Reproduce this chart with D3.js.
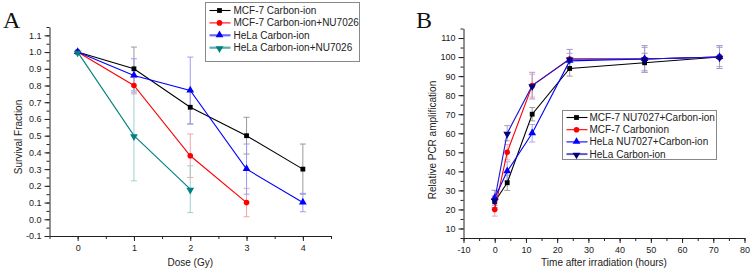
<!DOCTYPE html>
<html><head><meta charset="utf-8">
<script src="https://cdn.jsdelivr.net/npm/d3@7"></script>
<style>body{margin:0;background:#fff}svg{display:block;font-family:"Liberation Sans",Arial,sans-serif}</style>
</head><body>
<svg id="c" width="752" height="272"></svg>
<script>
// ---- Panel A data ----
const doseA = [0, 1, 2, 3, 4];
const aTicksY = [-0.1,0,0.1,0.2,0.3,0.4,0.5,0.6,0.7,0.8,0.9,1.0,1.1];
const aTicksX = [0,1,2,3,4];
const mcfCI = [1.0, 0.90, 0.67, 0.50, 0.30];
const mcfCIerr = [0, 0.13, 0.10, 0.11, 0.15];
const mcfNU = [1.0, 0.80, 0.38, 0.10];
const mcfNUerr = [0, 0.05, 0.13, 0.085];
const helaCI = [1.0, 0.86, 0.77, 0.30, 0.10];
const helaCIerr = [0, 0.10, 0.20, 0.15, 0.055];
const helaNU = [1.0, 0.50, 0.18];
const helaNUerr = [0, 0.27, 0.14];
const legendA = ["MCF-7 Carbon-ion","MCF-7 Carbon-ion+NU7026","HeLa Carbon-ion","HeLa Carbon-ion+NU7026"];

// ---- Panel B data ----
const timeB = [0, 4, 12, 24, 48, 72];
const bTicksY = [10,20,30,40,50,60,70,80,90,100,110];
const bTicksX = [-10,0,10,20,30,40,50,60,70,80];
const b_mcfNU = [24, 34, 70, 94, 97, 100];
const b_mcfNUerr = [3, 4, 3.5, 4, 5, 6];
const b_mcfCI = [20, 50, 85, 99, 99, 100];
const b_mcfCIerr = [3.5, 4, 6, 5, 7, 6];
const b_helaNU = [26, 40, 60, 98, 99, 100];
const b_helaNUerr = [4, 5, 4.6, 4, 6, 5];
const b_helaCI = [25, 60, 85, 99, 99, 100];
const b_helaCIerr = [5, 4, 7, 5, 7, 6];
const legendB = ["MCF-7 NU7027+Carbon-ion","MCF-7 Carbonion","HeLa NU7027+Carbon-ion","HeLa Carbon-ion"];

const svg = d3.select("#c");

function marker(g, type, x, y, color){
  if(type==="square"){
    g.append("rect").attr("x",x-2.4).attr("y",y-2.4).attr("width",4.8).attr("height",4.8).attr("fill",color);
  } else if(type==="circle"){
    g.append("circle").attr("cx",x).attr("cy",y).attr("r",2.8).attr("fill",color);
  } else {
    const p = d3.symbol().type(d3.symbolTriangle).size(26)();
    g.append("path").attr("d",p).attr("fill",color)
      .attr("transform",`translate(${x},${y + (type==="down"? 0.8 : -0.3)}) rotate(${type==="down"?180:0})`);
  }
}

const hy = f => (v => f(v).replace("\u2212","-"));

function drawPanel(cfg){
  const g = svg.append("g");
  const x = d3.scaleLinear().domain(cfg.xd).range(cfg.xr);
  const y = d3.scaleLinear().domain(cfg.yd).range(cfg.yr);
  const ax = g.append("g").attr("transform",`translate(0,${cfg.yr[0]})`)
    .call(d3.axisBottom(x).tickValues(cfg.xMinor).tickSize(3).tickFormat(""));
  ax.select(".domain").remove();
  const ay = g.append("g").attr("transform",`translate(${cfg.xr[0]},0)`)
    .call(d3.axisLeft(y).tickValues(cfg.yMinor).tickSize(3).tickFormat(""));
  ay.select(".domain").remove();
  const bx = g.append("g").attr("transform",`translate(0,${cfg.yr[0]})`)
    .call(d3.axisBottom(x).tickValues(cfg.xTicks).tickSize(5).tickSizeOuter(0).tickPadding(4).tickFormat(cfg.xFmt));
  const by = g.append("g").attr("transform",`translate(${cfg.xr[0]},0)`)
    .call(d3.axisLeft(y).tickValues(cfg.yTicks).tickSize(5).tickSizeOuter(0).tickPadding(3).tickFormat(cfg.yFmt));
  [ax,ay,bx,by].forEach(a=>{a.attr("font-family",null);
    a.selectAll("text").style("font-size","9px").style("font-family","'Liberation Sans', Arial, sans-serif").attr("fill","#222");
    a.selectAll("line,path").attr("stroke","#222");});
  g.append("text").attr("x",(cfg.xr[0]+cfg.xr[1])/2).attr("y",cfg.xTitleY).attr("text-anchor","middle")
    .style("font-size","10px").attr("fill","#222").text(cfg.xTitle);
  g.append("text").attr("transform",`translate(${cfg.yTitleX},${cfg.yTitleCy}) rotate(-90)`).attr("text-anchor","middle")
    .style("font-size","10px").attr("fill","#222").text(cfg.yTitle);
  g.append("text").attr("x",cfg.lab[0]).attr("y",cfg.lab[1]).style("font-size","24px")
    .style("font-family","'Liberation Serif', 'Times New Roman', serif").attr("fill","#111").text(cfg.label);
  cfg.series.forEach(s=>{
    const xs = cfg.xs.slice(0, s.v.length);
    const eg = g.append("g");
    s.v.forEach((v,i)=>{
      const e = s.e[i]; if(!e) return;
      const px = x(xs[i]);
      eg.append("line").attr("x1",px).attr("x2",px).attr("y1",y(v-e)).attr("y2",y(v+e)).attr("stroke",s.ec).attr("stroke-width",1);
      [v-e, v+e].forEach(t=>eg.append("line").attr("x1",px-3).attr("x2",px+3).attr("y1",y(t)).attr("y2",y(t)).attr("stroke",s.ec).attr("stroke-width",1));
    });
  });
  cfg.series.forEach(s=>{
    const xs = cfg.xs.slice(0, s.v.length);
    const line = d3.line().x((d,i)=>x(xs[i])).y(d=>y(d));
    g.append("path").datum(s.v).attr("d",line).attr("fill","none").attr("stroke",s.lc||s.c).attr("stroke-width",1.1);
    s.v.forEach((v,i)=>marker(g, s.m, x(xs[i]), y(v), s.c));
  });
  const L = cfg.leg;
  g.append("rect").attr("x",L.x).attr("y",L.y).attr("width",L.w).attr("height",L.h)
    .attr("fill","#fff").attr("stroke","#888").attr("stroke-width",1);
  cfg.series.forEach((s,i)=>{
    const yy = L.y + L.y0 + i*L.dy;
    g.append("line").attr("x1",L.x+4).attr("x2",L.x+25).attr("y1",yy).attr("y2",yy)
      .attr("stroke",s.legc||s.lc||s.c).attr("stroke-width",s.legw||1.1);
    marker(g, s.m, L.x+14, yy, s.c);
    g.append("text").attr("x",L.x+L.tx).attr("y",yy+3.5).style("font-size","10px").attr("fill","#222").text(cfg.legText[i]);
  });
}

const half = (a,b,st)=>d3.range(a,b+1e-9,st);

drawPanel({
  xd:[-0.5,4.5], xr:[49.5,331], yd:[-0.1,1.15], yr:[236,27],
  xTicks:aTicksX, xMinor:half(-0.5,4.5,0.5), yTicks:aTicksY, yMinor:half(-0.05,1.15,0.05),
  xFmt:hy(d3.format("d")), yFmt:hy(d3.format(".1f")),
  xTitle:"Dose (Gy)", xTitleY:266, yTitle:"Survival Fraction", yTitleX:22, yTitleCy:137,
  label:"A", lab:[3,28], xs:doseA,
  series:[
    {v:mcfCI, e:mcfCIerr, c:"#000000", ec:"#9a9a9a", m:"square"},
    {v:mcfNU, e:mcfNUerr, c:"#ff0000", ec:"#f3a3a3", m:"circle"},
    {v:helaCI, e:helaCIerr, c:"#0000ff", ec:"#9c9cf0", m:"up", legc:"#6b6bf5", legw:2.2},
    {v:helaNU, e:helaNUerr, c:"#008080", ec:"#9fcfcf", m:"down", legc:"#5aaeae", legw:2.2}
  ],
  legText:legendA,
  leg:{x:205.5,y:2.5,w:154,h:59,y0:8,dy:12.4,tx:28}
});

drawPanel({
  xd:[-10,80], xr:[463.5,744.5], yd:[5,115], yr:[238,28.5],
  xTicks:bTicksX, xMinor:half(-10,80,5), yTicks:bTicksY, yMinor:half(5,115,5),
  xFmt:hy(d3.format("d")), yFmt:hy(d3.format("d")),
  xTitle:"Time after irradiation (hours)", xTitleY:266, yTitle:"Relative PCR amplification", yTitleX:436, yTitleCy:140,
  label:"B", lab:[416,28], xs:timeB,
  series:[
    {v:b_mcfNU, e:b_mcfNUerr, c:"#000000", ec:"#a09aa8", m:"square"},
    {v:b_mcfCI, e:b_mcfCIerr, c:"#ff0000", ec:"#eaa6b0", m:"circle"},
    {v:b_helaNU, e:b_helaNUerr, c:"#0000ff", ec:"#a6a6ec", m:"up"},
    {v:b_helaCI, e:b_helaCIerr, c:"#000080", lc:"#1a1ad0", ec:"#ab9cc8", m:"down", legc:"#5a5ad0", legw:2}
  ],
  legText:legendB,
  leg:{x:562.5,y:110.5,w:154,h:49,y0:7,dy:12.2,tx:27}
});
</script>
</body></html>
